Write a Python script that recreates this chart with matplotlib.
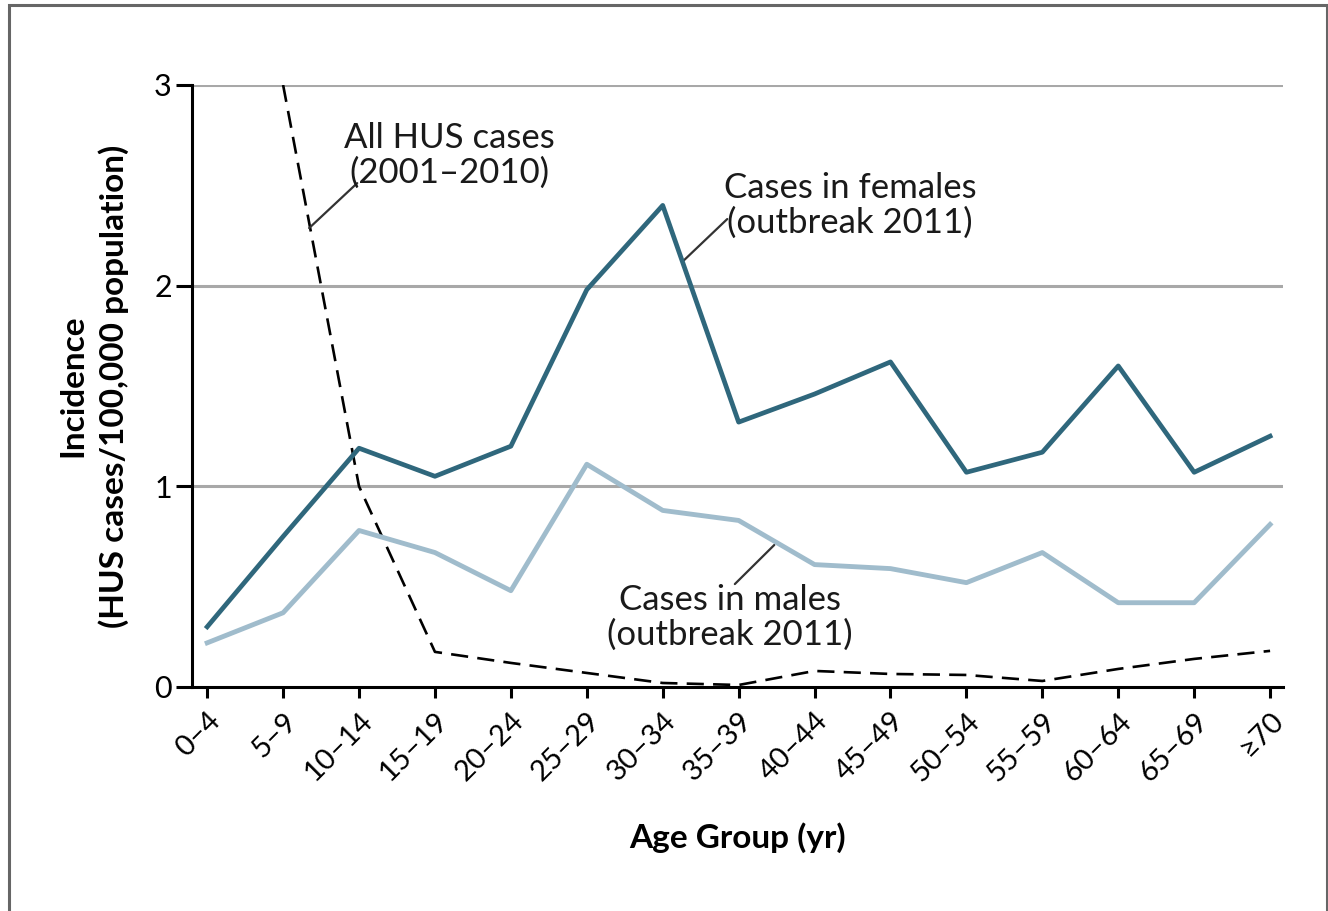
import numpy as np
import matplotlib
matplotlib.use("Agg")
import matplotlib.pyplot as plt
from matplotlib.patches import Rectangle

plt.rcParams['font.family'] = ['Lato', 'DejaVu Sans']

# data
age_groups = ['0–4', '5–9', '10–14', '15–19', '20–24', '25–29', '30–34', '35–39',
              '40–44', '45–49', '50–54', '55–59', '60–64', '65–69', '≥70']
females_2011 = [0.30, 0.75, 1.19, 1.05, 1.20, 1.98, 2.40, 1.32, 1.46, 1.62, 1.07, 1.17, 1.60, 1.07, 1.25]
males_2011 = [0.22, 0.37, 0.78, 0.67, 0.48, 1.11, 0.88, 0.83, 0.61, 0.59, 0.52, 0.67, 0.42, 0.42, 0.81]
all_hus_2001_2010 = [np.nan, 3.0, 1.0, 0.175, 0.12, 0.07, 0.02, 0.01, 0.08, 0.065, 0.06, 0.03, 0.09, 0.14, 0.18]

x = np.arange(len(age_groups))

fig = plt.figure(figsize=(13.28, 9.11), dpi=100)
ax = fig.add_axes([192/1328, 1 - 687/911, (1283-192)/1328, (687-85)/911])

ax.plot(x, all_hus_2001_2010, color='black', lw=1.9, dashes=(6.5, 3.5), zorder=3)
ax.plot(x, males_2011, color='#a0bccc', lw=3.5, zorder=4)
ax.plot(x, females_2011, color='#2f677c', lw=3.4, zorder=5)

ax.set_xlim(-0.2, 14.17)
ax.set_ylim(0, 3)
ax.set_yticks([0, 1, 2, 3])
ax.set_xticks(x)
ax.set_xticklabels(age_groups)
for y in [1, 2, 3]:
    ax.axhline(y, color='#a8a8a8', lw=2.2, zorder=1)

for s in ['top', 'right']:
    ax.spines[s].set_visible(False)
for s in ['left', 'bottom']:
    ax.spines[s].set_linewidth(2.2)
    ax.spines[s].set_zorder(6)

ax.tick_params(axis='y', direction='out', length=11.5, width=2.2, pad=3, labelsize=22)
ax.tick_params(axis='x', direction='out', length=8, width=2.2, pad=7, labelsize=21)
plt.setp(ax.get_xticklabels(), rotation=45, ha='right', va='top', rotation_mode='anchor')

ax.set_xlabel('Age Group (yr)', fontsize=24, fontweight='bold')
ax.xaxis.set_label_coords(0.5, -0.224)
ax.set_ylabel('Incidence\n(HUS cases/100,000 population)', fontsize=24, fontweight='bold',
              linespacing=1.4)
ax.yaxis.set_label_coords(-0.058, 0.5)

# annotations with leader lines
ann = dict(arrowprops=dict(arrowstyle='-', color='#333333', lw=1.6, shrinkA=0, shrinkB=0))
ax.annotate('', xy=(1.343, 2.287), xytext=(1.976, 2.511), **ann)
ax.text(3.19, 2.65, 'All HUS cases\n(2001–2010)', fontsize=25, ha='center', va='center',
        linespacing=1.1, color='#1a1a1a')
ax.annotate('', xy=(6.27, 2.123), xytext=(6.85, 2.332), **ann)
ax.text(8.47, 2.40, 'Cases in females\n(outbreak 2011)', fontsize=25, ha='center', va='center',
        linespacing=1.1, color='#1a1a1a')
ax.annotate('', xy=(7.47, 0.708), xytext=(6.95, 0.513), **ann)
ax.text(6.89, 0.349, 'Cases in males\n(outbreak 2011)', fontsize=25, ha='center', va='center',
        linespacing=1.1, color='#1a1a1a')

# outer frame
fig.patches.append(Rectangle((9/1328, -0.05), (1326.5-9)/1328, 1.05 - 5.5/911,
                             transform=fig.transFigure, fill=False, ec='#666666', lw=2.2))

fig.savefig('out.png', dpi=100)
